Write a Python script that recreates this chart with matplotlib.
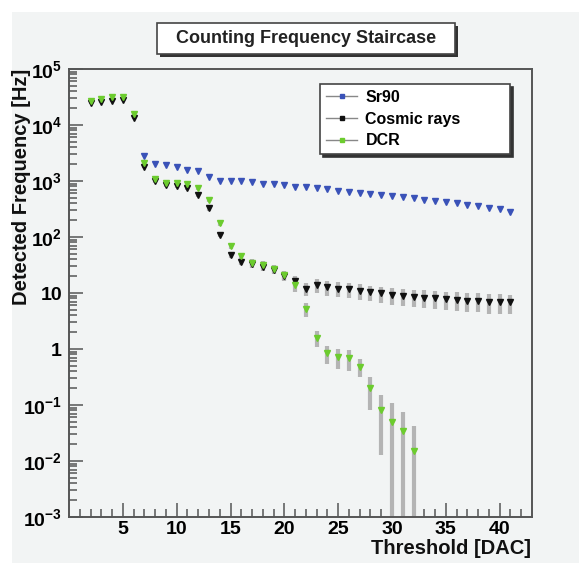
import matplotlib
matplotlib.use("Agg")
import matplotlib.pyplot as plt
import numpy as np
from matplotlib.lines import Line2D
from matplotlib.patches import Rectangle

plt.rcParams["font.family"] = ["Liberation Sans", "DejaVu Sans"]
plt.rcParams["font.weight"] = "bold"
plt.rcParams["mathtext.fontset"] = "custom"
plt.rcParams["mathtext.rm"] = "Liberation Sans:bold"
plt.rcParams["mathtext.it"] = "Liberation Sans:bold"
plt.rcParams["mathtext.bf"] = "Liberation Sans:bold"

# Sr90 (blue), thresholds 7..41
sr_x = list(range(7, 42))
sr_y = [2800, 2000, 1900, 1750, 1600, 1500, 1200, 1000, 1000, 980, 950, 890, 880, 850,
        790, 773, 741, 711, 672, 645, 603, 579, 562, 540, 512, 491, 458, 440, 416,
        399, 372, 358, 334, 313, 283]

# Cosmic rays (black), thresholds 2..41
cr_x = list(range(2, 42))
cr_y = [25000, 26000, 27000, 28000, 13500, 1800, 1000, 850, 820, 740, 560, 325, 110, 48,
        36, 33, 29, 26, 20, 16.6, 12, 13.8, 12.6, 12, 11.7, 10.9, 10.3, 9.8, 9.1, 8.8,
        8.6, 8.3, 8.0, 7.8, 7.5, 7.3, 7.2, 7.0, 6.9, 6.8]
cr_err = [900, 900, 900, 900, 600, 120, 80, 70, 70, 60, 50, 30, 12, 6,
          5, 5, 4.5, 4, 3.5, 3.2, 3.0, 4.0, 3.8, 3.6, 3.5, 3.4, 3.2, 3.1, 3.0, 3.0,
          2.9, 2.9, 2.8, 2.8, 2.8, 2.7, 2.7, 2.7, 2.6, 2.6]

# DCR (green), thresholds 2..32
dcr_x = list(range(2, 33))
dcr_y = [27000, 29000, 32000, 31000, 15500, 2100, 1100, 940, 910, 890, 740, 460, 175, 68,
         45, 35, 32, 27, 21, 13.8, 5.2, 1.6, 0.84, 0.72, 0.68, 0.48, 0.2, 0.081, 0.05,
         0.035, 0.015]
dcr_err = [900, 900, 900, 900, 600, 120, 80, 70, 70, 60, 50, 35, 15, 8,
           6, 5, 5, 4.5, 4, 3.2, 1.5, 0.5, 0.3, 0.28, 0.27, 0.17, 0.12, 0.068, 0.057,
           0.041, 0.028]

BLUE = "#3a52b8"
BLACK = "#111111"
GREEN = "#6ccc2e"
ERR = "#b4b4b4"
PANEL = "#f2f4f4"


def main():
    fig = plt.figure(figsize=(5.79, 5.63), dpi=100)
    fig.patch.set_facecolor("white")
    fig.patches.append(Rectangle((12 / 579, 0), 1, 1 - 12 / 563, transform=fig.transFigure,
                                 facecolor=PANEL, edgecolor="none", zorder=-5))

    ax = fig.add_axes([69 / 579, 1 - 517 / 563, 463 / 579, 448 / 563])
    ax.set_facecolor(PANEL)

    ax.errorbar(cr_x, cr_y, yerr=cr_err, fmt="none", ecolor=ERR, elinewidth=3.0, capsize=0, zorder=2)
    ax.errorbar(dcr_x, dcr_y, yerr=dcr_err, fmt="none", ecolor=ERR, elinewidth=3.0, capsize=0, zorder=2)
    ax.plot(sr_x, sr_y, ls="none", marker="v", ms=4.6, color=BLUE, zorder=3)
    ax.plot(cr_x, cr_y, ls="none", marker="v", ms=4.6, color=BLACK, zorder=4)
    ax.plot(dcr_x, dcr_y, ls="none", marker="v", ms=4.6, color=GREEN, zorder=5)

    ax.set_yscale("log")
    ax.set_xlim(0, 43)
    ax.set_ylim(1e-3, 1e5)

    yt = [1e-3, 1e-2, 1e-1, 1, 10, 1e2, 1e3, 1e4, 1e5]
    ylabels = [r"$10^{-3}$", r"$10^{-2}$", r"$10^{-1}$", "1", "10",
               r"$10^{2}$", r"$10^{3}$", r"$10^{4}$", r"$10^{5}$"]
    ax.set_yticks(yt)
    ax.set_yticklabels(ylabels, fontsize=14, fontweight="bold")
    ax.yaxis.set_minor_locator(matplotlib.ticker.LogLocator(base=10, subs=np.arange(2, 10), numticks=20))
    ax.yaxis.set_minor_formatter(matplotlib.ticker.NullFormatter())

    ax.set_xticks([5, 10, 15, 20, 25, 30, 35, 40])
    ax.set_xticklabels(["5", "10", "15", "20", "25", "30", "35", "40"], fontsize=14, fontweight="bold")
    ax.set_xticks(np.arange(1, 43), minor=True)

    ax.tick_params(which="major", direction="in", length=10, width=1.1, color="#555555", pad=4)
    ax.tick_params(which="minor", direction="in", length=5.5, width=1.1, color="#555555")
    ax.tick_params(axis="y", which="major", pad=5)
    ax.tick_params(axis="x", which="major", pad=3)
    ax.tick_params(top=False, right=False, which="both")
    for sp in ax.spines.values():
        sp.set_color("#555555")
        sp.set_linewidth(1.4)

    fig.text(531 / 579, 1 - 549 / 563, "Threshold [DAC]", ha="right", va="center",
             fontsize=14.5, fontweight="bold", color="#111111")
    fig.text(22 / 579, 1 - 69 / 563, "Detected Frequency [Hz]", rotation=90, ha="center", va="top",
             fontsize=14.5, fontweight="bold", color="#111111")

    # title box with shadow
    x0, x1 = 157 / 579, 455 / 579
    y0, y1 = 1 - 54 / 563, 1 - 23 / 563
    fig.patches.append(Rectangle((x0 + 3 / 579, y0 - 3 / 563), x1 - x0, y1 - y0, transform=fig.transFigure,
                                 facecolor="#333333", edgecolor="none", zorder=5))
    fig.patches.append(Rectangle((x0, y0), x1 - x0, y1 - y0, transform=fig.transFigure,
                                 facecolor="white", edgecolor="#444444", lw=1.2, zorder=6))
    fig.text((x0 + x1) / 2, (y0 + y1) / 2, "Counting Frequency Staircase", ha="center", va="center",
             fontsize=13, fontweight="bold", color="#222222", zorder=7)

    handles = [
        Line2D([0], [0], color="#888888", lw=1.0, marker="s", ms=3, mfc=BLUE, mec=BLUE),
        Line2D([0], [0], color="#888888", lw=1.0, marker="s", ms=3, mfc=BLACK, mec=BLACK),
        Line2D([0], [0], color="#888888", lw=1.0, marker="s", ms=3, mfc=GREEN, mec=GREEN),
    ]
    leg = ax.legend(handles, ["Sr90", "Cosmic rays", "DCR"], loc="upper left",
                    bbox_to_anchor=(0.542, 0.819, 0.411, 0.147), mode="expand",
                    fancybox=False, frameon=True,
                    shadow={"color": "#333333", "alpha": 1.0},
                    handlelength=2.0, handletextpad=0.5, labelspacing=0.42,
                    borderpad=0.35, borderaxespad=0, prop={"weight": "bold", "size": 11.5})
    leg.get_frame().set_edgecolor("#444444")
    leg.get_frame().set_linewidth(1.2)
    leg.get_frame().set_facecolor("white")
    leg.get_frame().set_alpha(1.0)
    leg.set_zorder(10)

    fig.savefig("out.png", dpi=100)


if __name__ == "__main__":
    main()
